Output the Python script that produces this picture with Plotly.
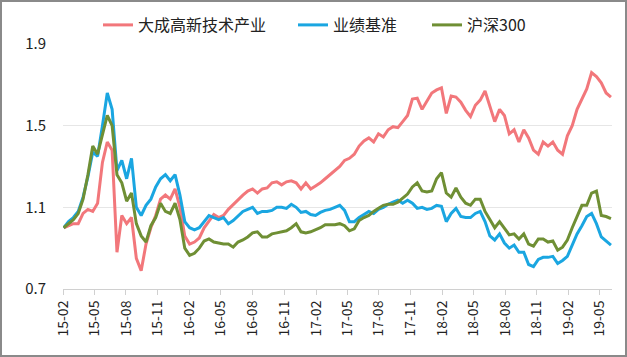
import plotly.graph_objects as go
import pandas as pd

# 14-day sampling grid from 2015-02-02 to 2019-06-02
dates = pd.date_range("2015-02-02", periods=114, freq="14D")

fund = [1.00, 1.01, 1.02, 1.02, 1.07, 1.09, 1.08, 1.12, 1.32, 1.42,
        1.38, 0.88, 1.06, 1.02, 1.05, 0.85, 0.79, 0.92, 1.00, 1.06,
        1.14, 1.16, 1.14, 1.19, 1.10, 0.96, 0.92, 0.93, 0.95, 1.00,
        1.03, 1.065, 1.05, 1.06, 1.09, 1.115, 1.135, 1.16, 1.18, 1.19,
        1.17, 1.19, 1.195, 1.22, 1.225, 1.21, 1.225, 1.23, 1.22, 1.19,
        1.22, 1.19, 1.205, 1.22, 1.24, 1.26, 1.28, 1.30, 1.33, 1.34,
        1.36, 1.40, 1.425, 1.44, 1.42, 1.46, 1.445, 1.48, 1.495, 1.49,
        1.52, 1.55, 1.63, 1.635, 1.58, 1.62, 1.66, 1.675, 1.685, 1.56,
        1.645, 1.64, 1.615, 1.575, 1.545, 1.60, 1.625, 1.67, 1.60, 1.52,
        1.58, 1.55, 1.46, 1.48, 1.42, 1.48, 1.44, 1.38, 1.36, 1.42,
        1.40, 1.42, 1.38, 1.36, 1.45, 1.50, 1.58, 1.63, 1.68, 1.76,
        1.74, 1.71, 1.66, 1.64]

benchmark = [1.00, 1.03, 1.05, 1.08, 1.15, 1.25, 1.37, 1.35, 1.50, 1.66,
             1.58, 1.28, 1.33, 1.24, 1.34, 1.10, 1.06, 1.11, 1.14, 1.20,
             1.24, 1.26, 1.23, 1.26, 1.16, 1.03, 1.00, 0.99, 1.00, 1.03,
             1.06, 1.05, 1.04, 1.05, 1.02, 1.035, 1.06, 1.08, 1.09, 1.10,
             1.07, 1.08, 1.08, 1.085, 1.10, 1.10, 1.095, 1.115, 1.10, 1.075,
             1.08, 1.065, 1.06, 1.075, 1.085, 1.09, 1.10, 1.11, 1.085, 1.03,
             1.03, 1.05, 1.065, 1.08, 1.07, 1.09, 1.10, 1.115, 1.125, 1.135,
             1.12, 1.135, 1.12, 1.095, 1.10, 1.09, 1.095, 1.11, 1.105, 1.03,
             1.07, 1.095, 1.055, 1.05, 1.05, 1.07, 1.08, 1.03, 0.96, 0.94,
             0.97, 0.925, 0.90, 0.915, 0.88, 0.88, 0.82, 0.81, 0.845, 0.855,
             0.855, 0.86, 0.825, 0.84, 0.86, 0.915, 0.97, 1.01, 1.055, 1.07,
             1.02, 0.955, 0.935, 0.915]

hs300 = [1.00, 1.02, 1.04, 1.07, 1.14, 1.26, 1.40, 1.36, 1.46, 1.55,
         1.50, 1.26, 1.22, 1.13, 1.17, 1.02, 0.96, 0.93, 1.01, 1.05,
         1.12, 1.08, 1.07, 1.12, 1.04, 0.90, 0.865, 0.875, 0.90, 0.935,
         0.945, 0.93, 0.925, 0.92, 0.92, 0.905, 0.93, 0.94, 0.955, 0.975,
         0.98, 0.955, 0.955, 0.97, 0.975, 0.98, 0.985, 1.00, 1.02, 0.98,
         0.975, 0.98, 0.99, 1.00, 1.015, 1.015, 1.015, 1.02, 1.01, 0.985,
         0.995, 1.035, 1.05, 1.06, 1.08, 1.095, 1.11, 1.115, 1.115, 1.125,
         1.145, 1.165, 1.20, 1.22, 1.18, 1.175, 1.18, 1.24, 1.27, 1.17,
         1.15, 1.195, 1.15, 1.12, 1.11, 1.14, 1.14, 1.08, 1.04, 1.00,
         1.03, 1.00, 0.965, 0.97, 0.945, 0.97, 0.92, 0.91, 0.945, 0.945,
         0.93, 0.935, 0.89, 0.905, 0.94, 1.00, 1.06, 1.11, 1.11, 1.17,
         1.18, 1.06, 1.055, 1.045]

series_names = ["大成高新技术产业", "业绩基准", "沪深300"]
series_values = [fund, benchmark, hs300]
colors = ["#F2777B", "#1AA6E1", "#6F8F34"]

tick_dates = pd.date_range("2015-02-01", "2019-05-01", freq="3MS")
tick_labels = [d.strftime("%y-%m") for d in tick_dates]
y_ticks = [0.7, 1.1, 1.5, 1.9]

W, H = 627, 357
ml, mr, mt, mb = 63, 15, 44, 68
pw, ph = W - ml - mr, H - mt - mb

# legend line-start pixel for each entry
legend_px = [103, 298, 432]
legend_ids = ["legend", "legend2", "legend3"]

fig = go.Figure()
for name, vals, col, lid in zip(series_names, series_values, colors, legend_ids):
    fig.add_trace(go.Scatter(x=dates, y=vals, name=name, mode="lines",
                             line=dict(color=col, width=3), legend=lid))

legend_common = dict(orientation="h", xanchor="left", yanchor="middle",
                     y=1 + 19 / ph, font=dict(size=16, color="#222"),
                     bgcolor="rgba(0,0,0,0)", borderwidth=0, itemwidth=30)
legends = {}
for lid, px in zip(legend_ids, legend_px):
    legends[lid] = dict(legend_common, x=(px - 5 - ml) / pw)

fig.update_layout(
    width=W, height=H,
    margin=dict(l=ml, r=mr, t=mt, b=mb, autoexpand=False),
    paper_bgcolor="white", plot_bgcolor="white",
    font=dict(family="Noto Sans CJK SC, Microsoft YaHei, sans-serif", size=14, color="#222"),
    showlegend=True,
    xaxis=dict(type="date", range=["2015-01-31", "2019-06-06"],
               tickvals=tick_dates, ticktext=tick_labels, tickangle=-90,
               showgrid=False, showline=True, linecolor="#d0d0d0", linewidth=1,
               ticks="outside", ticklen=5, tickcolor="#d0d0d0", automargin=False,
               tickfont=dict(size=14, color="#222")),
    yaxis=dict(range=[0.7, 1.9], tickvals=y_ticks, ticktext=["0.7", "1.1", "1.5", "1.9"],
               showgrid=True, gridcolor="#e6e6e6", gridwidth=1, zeroline=False,
               showline=False, ticks="", automargin=False, ticklabelstandoff=16,
               tickfont=dict(size=15, color="#222")),
    shapes=[dict(type="rect", xref="paper", yref="paper",
                 x0=-(ml - 1) / pw, x1=1 + (mr - 1) / pw,
                 y0=-(mb - 1) / ph, y1=1 + (mt - 1) / ph,
                 line=dict(color="#8a8a8a", width=2), fillcolor="rgba(0,0,0,0)")],
    **legends,
)

fig.write_html("out.html", config={"displayModeBar": False},
               post_script="document.body.style.margin='0';document.body.style.padding='0';")
